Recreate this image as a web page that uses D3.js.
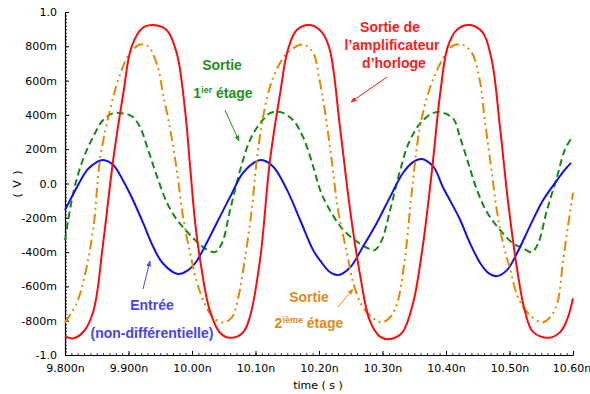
<!DOCTYPE html>
<html>
<head>
<meta charset="utf-8">
<script src="https://cdn.jsdelivr.net/npm/d3@7"></script>
<style>
  html, body { margin: 0; padding: 0; background: #fff; }
  svg { display: block; }
  .tick text { font-family: "DejaVu Sans", sans-serif; font-size: 11px; fill: #000; }
  .ann { font-family: "Liberation Sans", Arial, sans-serif; font-weight: bold; font-size: 14px; }
</style>
</head>
<body>
<script>
// ---- data (time in ns, voltage in V) ----
const redT = [9.800, 9.813, 9.830, 9.845, 9.860, 9.876, 9.892, 9.905, 9.923, 9.939, 9.960, 9.976, 9.989, 9.997, 10.005, 10.013, 10.028, 10.044, 10.060, 10.080, 10.091, 10.107, 10.123, 10.139, 10.151, 10.165, 10.186, 10.205, 10.217, 10.233, 10.249, 10.265, 10.280, 10.296, 10.312, 10.331, 10.348, 10.364, 10.378, 10.391, 10.403, 10.418, 10.438, 10.458, 10.472, 10.485, 10.498, 10.512, 10.524, 10.537, 10.561, 10.580, 10.592, 10.600];
const redV = [-0.89, -0.903, -0.86, -0.74, -0.35, 0.14, 0.53, 0.80, 0.91, 0.924, 0.895, 0.76, 0.43, 0.10, -0.23, -0.45, -0.74, -0.87, -0.90, -0.87, -0.78, -0.45, 0.14, 0.53, 0.78, 0.895, 0.924, 0.88, 0.78, 0.33, -0.155, -0.54, -0.80, -0.893, -0.907, -0.87, -0.70, -0.35, 0.08, 0.53, 0.80, 0.90, 0.924, 0.88, 0.72, 0.33, -0.115, -0.50, -0.74, -0.865, -0.90, -0.865, -0.78, -0.67];

const orangeT = [9.800, 9.818, 9.831, 9.845, 9.855, 9.871, 9.887, 9.902, 9.918, 9.931, 9.946, 9.954, 9.965, 9.976, 9.986, 9.997, 10.008, 10.020, 10.033, 10.049, 10.063, 10.072, 10.083, 10.094, 10.102, 10.112, 10.128, 10.150, 10.175, 10.191, 10.200, 10.209, 10.220, 10.230, 10.244, 10.254, 10.269, 10.285, 10.299, 10.312, 10.323, 10.335, 10.346, 10.359, 10.375, 10.391, 10.409, 10.425, 10.441, 10.454, 10.461, 10.469, 10.480, 10.490, 10.501, 10.513, 10.529, 10.551, 10.564, 10.575, 10.584, 10.592, 10.600];
const orangeV = [-0.81, -0.70, -0.54, -0.25, 0.137, 0.43, 0.64, 0.76, 0.81, 0.80, 0.68, 0.53, 0.33, 0.08, -0.195, -0.405, -0.58, -0.70, -0.78, -0.81, -0.78, -0.68, -0.446, -0.155, 0.137, 0.39, 0.62, 0.76, 0.81, 0.76, 0.62, 0.43, 0.137, -0.155, -0.405, -0.58, -0.72, -0.785, -0.81, -0.78, -0.70, -0.446, -0.055, 0.33, 0.56, 0.70, 0.80, 0.81, 0.76, 0.585, 0.37, 0.155, -0.155, -0.35, -0.50, -0.66, -0.755, -0.81, -0.78, -0.70, -0.465, -0.25, -0.055];

const greenT = [9.800, 9.813, 9.828, 9.844, 9.860, 9.876, 9.890, 9.906, 9.918, 9.931, 9.945, 9.961, 9.976, 9.992, 10.005, 10.017, 10.036, 10.047, 10.060, 10.076, 10.091, 10.107, 10.123, 10.139, 10.159, 10.175, 10.191, 10.202, 10.217, 10.238, 10.260, 10.276, 10.288, 10.299, 10.312, 10.328, 10.343, 10.364, 10.386, 10.411, 10.422, 10.435, 10.449, 10.465, 10.485, 10.506, 10.521, 10.535, 10.545, 10.559, 10.575, 10.587, 10.600];
const greenV = [-0.33, -0.055, 0.137, 0.27, 0.37, 0.41, 0.41, 0.39, 0.33, 0.195, 0.04, -0.115, -0.21, -0.28, -0.33, -0.37, -0.40, -0.35, -0.155, 0.08, 0.25, 0.35, 0.41, 0.417, 0.37, 0.27, 0.098, -0.04, -0.155, -0.27, -0.34, -0.376, -0.388, -0.33, -0.155, 0.08, 0.25, 0.37, 0.417, 0.38, 0.27, 0.12, -0.04, -0.17, -0.27, -0.35, -0.376, -0.40, -0.35, -0.155, 0.04, 0.195, 0.28];

const blueT = [9.800, 9.819, 9.835, 9.850, 9.860, 9.876, 9.891, 9.907, 9.923, 9.939, 9.954, 9.978, 9.994, 10.005, 10.017, 10.039, 10.060, 10.080, 10.099, 10.110, 10.128, 10.150, 10.170, 10.191, 10.202, 10.217, 10.230, 10.249, 10.269, 10.291, 10.312, 10.332, 10.348, 10.362, 10.380, 10.395, 10.408, 10.422, 10.438, 10.454, 10.466, 10.480, 10.496, 10.512, 10.532, 10.553, 10.575, 10.587, 10.597];
const blueV = [-0.155, -0.02, 0.08, 0.125, 0.137, 0.108, 0.02, -0.096, -0.23, -0.37, -0.465, -0.528, -0.505, -0.465, -0.39, -0.23, -0.078, 0.06, 0.125, 0.137, 0.098, -0.04, -0.21, -0.39, -0.45, -0.516, -0.534, -0.49, -0.37, -0.23, -0.078, 0.06, 0.125, 0.143, 0.098, -0.02, -0.11, -0.21, -0.35, -0.465, -0.52, -0.54, -0.505, -0.405, -0.25, -0.096, 0.02, 0.08, 0.12];

const xTickValues = [9.8, 9.9, 10.0, 10.1, 10.2, 10.3, 10.4, 10.5, 10.6];
const xTickLabels = ["9.800n", "9.900n", "10.00n", "10.10n", "10.20n", "10.30n", "10.40n", "10.50n", "10.60n"];
const yTickValues = [-1, -0.8, -0.6, -0.4, -0.2, 0, 0.2, 0.4, 0.6, 0.8, 1];
const yTickLabels = ["-1.0", "-800m", "-600m", "-400m", "-200m", "0.0", "200m", "400m", "600m", "800m", "1.0"];

// ---- drawing ----
const W = 590, H = 394;
const svg = d3.select("body").append("svg").attr("width", W).attr("height", H);

const x = d3.scaleLinear().domain([9.8, 10.6]).range([65, 573]);
const y = d3.scaleLinear().domain([-1, 1]).range([355, 12]);

// minor ticks
const xMinor = d3.range(0, 81).map(i => 9.8 + i * 0.01);
const yMinor = d3.range(0, 101).map(i => -1 + i * 0.02);

svg.append("g").attr("transform", `translate(0,${y(-1)})`)
  .call(d3.axisBottom(x).tickValues(xMinor).tickSize(-2).tickSizeOuter(0).tickFormat(""))
  .call(g => g.select(".domain").remove())
  .selectAll("line").attr("stroke", "#000").attr("stroke-width", 0.8);
svg.append("g").attr("transform", `translate(${x(9.8)},0)`)
  .call(d3.axisLeft(y).tickValues(yMinor).tickSize(-2).tickSizeOuter(0).tickFormat(""))
  .call(g => g.select(".domain").remove())
  .selectAll("line").attr("stroke", "#000").attr("stroke-width", 0.8);

const xAxis = svg.append("g").attr("transform", `translate(0,${y(-1)})`)
  .call(d3.axisBottom(x).tickValues(xTickValues).tickSize(-4).tickSizeOuter(0)
    .tickPadding(9).tickFormat((d, i) => xTickLabels[i]));
xAxis.select(".domain").attr("stroke", "#000").attr("stroke-width", 1.2);
xAxis.selectAll(".tick text").filter((d, i) => i === xTickValues.length - 1).attr("dx", -1.5);

const yAxis = svg.append("g").attr("transform", `translate(${x(9.8)},0)`)
  .call(d3.axisLeft(y).tickValues(yTickValues).tickSize(-4).tickSizeOuter(0)
    .tickPadding(8).tickFormat((d, i) => yTickLabels[i]));
yAxis.select(".domain").attr("stroke", "#000").attr("stroke-width", 1.2);

// axis titles
svg.append("text").attr("x", 318).attr("y", 389).attr("text-anchor", "middle")
  .attr("font-family", "DejaVu Sans, sans-serif").attr("font-size", 11)
  .text("time ( s )");
svg.append("text").attr("transform", `translate(21,${y(0)}) rotate(-90)`).attr("text-anchor", "middle")
  .attr("font-family", "DejaVu Sans, sans-serif").attr("font-size", 11).attr("letter-spacing", 1)
  .text("( V )");

// series
const line = d3.line().x(d => x(d[0])).y(d => y(d[1])).curve(d3.curveCatmullRom.alpha(0.5));
function series(T, V, color, dash) {
  const pts = T.map((t, i) => [t, V[i]]);
  const p = svg.append("path").datum(pts).attr("d", line)
    .attr("fill", "none").attr("stroke", color).attr("stroke-width", 2)
    .attr("stroke-linejoin", "round");
  if (dash) p.attr("stroke-dasharray", dash);
}
series(greenT, greenV, "#138a13", "7,4");
series(blueT, blueV, "#1010f0", null);
series(orangeT, orangeV, "#e08a00", "10,4,2,4,2,4");
series(redT, redV, "#ff0a0a", null);

// annotations
const defs = svg.append("defs");
function marker(id, color) {
  defs.append("marker").attr("id", id).attr("viewBox", "0 0 10 10").attr("refX", 9).attr("refY", 5)
    .attr("markerWidth", 6).attr("markerHeight", 6).attr("orient", "auto")
    .append("path").attr("d", "M0,1 L10,5 L0,9 Z").attr("fill", color);
}
marker("mg", "#1f8f1f"); marker("mr", "#ff1a1a"); marker("mb", "#4545ee"); marker("mo", "#e08a1a");

function arrow(x1, y1, x2, y2, color, m) {
  svg.append("line").attr("x1", x1).attr("y1", y1).attr("x2", x2).attr("y2", y2)
    .attr("stroke", color).attr("stroke-width", 1).attr("marker-end", `url(#${m})`);
}
function label(cx, by, parts, color) {
  const t = svg.append("text").attr("class", "ann").attr("x", cx).attr("y", by)
    .attr("text-anchor", "middle").attr("fill", color);
  parts.forEach(p => {
    const s = t.append("tspan").text(p.t);
    if (p.sup) s.attr("font-size", 9).attr("dy", -5);
    if (p.after) s.attr("dy", 5);
  });
}

// green
label(222, 70, [{t: "Sortie"}], "#1f8f1f");
label(223, 98, [{t: "1"}, {t: "ier", sup: true}, {t: " étage", after: true}], "#1f8f1f");
arrow(225, 110, 239, 141, "#1f8f1f", "mg");

// red
label(390, 32, [{t: "Sortie de"}], "#ff1a1a");
label(392, 50, [{t: "l’amplificateur"}], "#ff1a1a");
label(394, 68, [{t: "d’horloge"}], "#ff1a1a");
arrow(387, 77, 351, 102, "#ff1a1a", "mr");

// blue
label(152, 310, [{t: "Entrée"}], "#4545ee");
label(152, 338, [{t: "(non-différentielle)"}], "#4545ee");
arrow(143, 289, 150, 261, "#4545ee", "mb");

// orange
label(309, 302, [{t: "Sortie"}], "#e08a1a");
label(309, 328, [{t: "2"}, {t: "ième", sup: true}, {t: " étage", after: true}], "#e08a1a");
arrow(338, 307, 353, 289, "#e08a1a", "mo");
</script>
</body>
</html>
